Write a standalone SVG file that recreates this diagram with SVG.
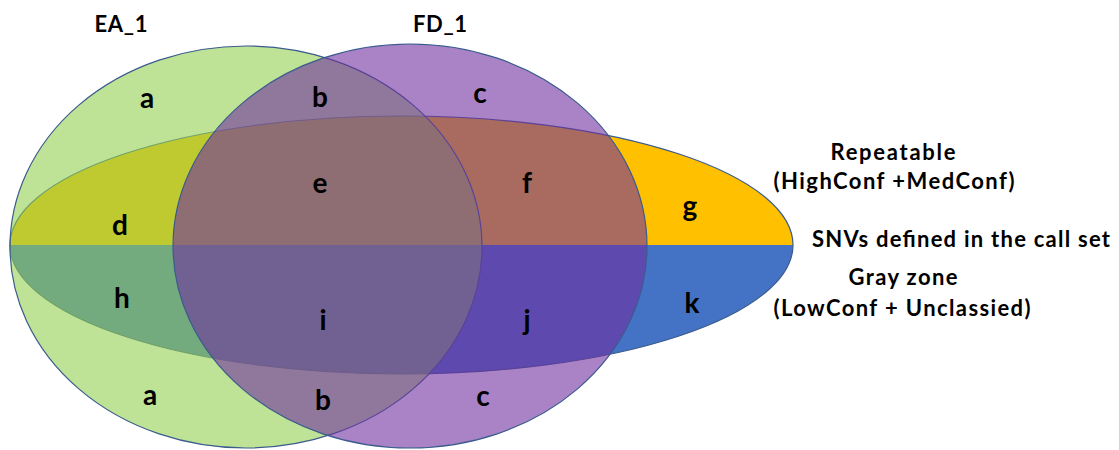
<svg xmlns="http://www.w3.org/2000/svg" width="1119" height="450" viewBox="0 0 1119 450">
  <style>
    .edge { stroke: #3B5B8E; stroke-width: 1.2; }
    .lbl { font-family: Lato, "Liberation Sans", sans-serif; font-weight: bold; fill: #000; text-anchor: middle; }
    .big { font-size: 28px; }
    .cap { font-size: 22px; }
  </style>
  <rect x="0" y="0" width="1119" height="450" fill="#ffffff"/>
  <g id="callset">
    <path d="M 10 245 A 391.5 129 0 0 1 793 245 Z" fill="#FFC000"/>
    <path d="M 10 245 A 391.5 129 0 0 0 793 245 Z" fill="#4472C4"/>
    <ellipse cx="401.5" cy="245" rx="391.5" ry="129" fill="none" class="edge"/>
  </g>
  <g id="EA_1">
    <ellipse cx="246" cy="247" rx="236" ry="201" fill="#92D050" fill-opacity="0.6" class="edge"/>
  </g>
  <g id="FD_1">
    <ellipse cx="410" cy="246" rx="237" ry="202" fill="#7030A0" fill-opacity="0.6" class="edge"/>
  </g>
  <g id="region-labels" class="lbl big">
    <text x="147" y="108">a</text>
    <text x="320" y="107">b</text>
    <text x="480" y="103">c</text>
    <text x="320" y="193">e</text>
    <text x="527" y="193">f</text>
    <text x="690" y="216">g</text>
    <text x="120" y="235">d</text>
    <text x="122" y="308">h</text>
    <text x="323" y="330">i</text>
    <text x="527" y="330">j</text>
    <text x="692" y="313">k</text>
    <text x="150" y="405">a</text>
    <text x="323" y="410">b</text>
    <text x="483" y="406">c</text>
  </g>
  <g id="set-titles" class="lbl cap">
    <text x="121" y="32" textLength="53">EA_1</text>
    <text x="440" y="32" textLength="54">FD_1</text>
  </g>
  <g id="legend" class="lbl cap">
    <text x="893" y="160" textLength="125">Repeatable</text>
    <text x="894" y="189" textLength="241">(HighConf +MedConf)</text>
    <text x="961" y="247" textLength="298">SNVs defined in the call set</text>
    <text x="903" y="285" textLength="109">Gray zone</text>
    <text x="902" y="316" textLength="257">(LowConf + Unclassied)</text>
  </g>
</svg>
